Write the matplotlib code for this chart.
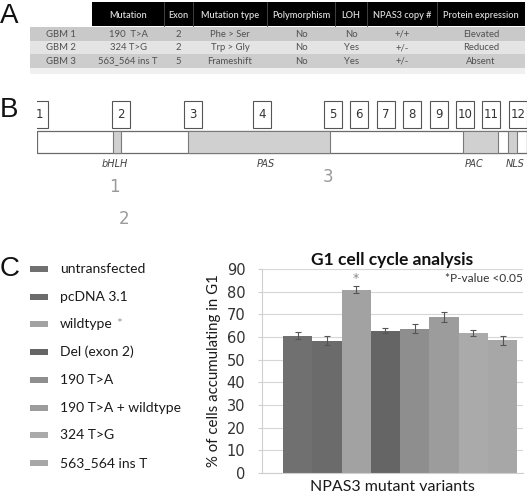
import matplotlib
matplotlib.use("Agg")
import matplotlib.pyplot as plt
from matplotlib.patches import Rectangle

# ---------------- data ----------------
table_header = ["Mutation", "Exon", "Mutation type", "Polymorphism", "LOH", "NPAS3 copy #", "Protein expression"]
table_rows = ["GBM 1", "GBM 2", "GBM 3"]
col_mutation = ["190  T>A", "324 T>G", "563_564 ins T"]
col_exon = ["2", "2", "5"]
col_type = ["Phe > Ser", "Trp > Gly", "Frameshift"]
col_poly = ["No", "No", "No"]
col_loh = ["No", "Yes", "Yes"]
col_copy = ["+/+", "+/-", "+/-"]
col_expr = ["Elevated", "Reduced", "Absent"]

exon_labels = ["1", "2", "3", "4", "5", "6", "7", "8", "9", "10", "11", "12"]
exon_pos = [0.4, 17.1, 31.8, 45.9, 60.4, 65.7, 71.2, 76.5, 82.0, 87.3, 92.7, 98.2]   # % of protein length
domain_names = ["bHLH", "PAS", "PAC", "NLS"]
domain_start = [15.5, 30.8, 86.9, 96.1]
domain_end = [17.1, 59.8, 94.1, 98.0]
domain_label_pos = [15.8, 46.8, 89.2, 97.5]
mutation_labels = ["1", "2", "3"]
mutation_pos = [15.9, 17.8, 59.4]

variants = ["untransfected", "pcDNA 3.1", "wildtype", "Del (exon 2)", "190 T>A",
            "190 T>A + wildtype", "324 T>G", "563_564 ins T"]
g1_values = [60.6, 58.4, 80.9, 62.8, 63.7, 68.7, 61.8, 58.5]
g1_errors = [1.5, 2.0, 1.7, 1.2, 2.0, 2.2, 1.5, 2.0]
significant = [False, False, True, False, False, False, False, False]
yticks = [0, 10, 20, 30, 40, 50, 60, 70, 80, 90]

bar_colors = ["#707070", "#6b6b6b", "#a2a2a2", "#656565", "#8e8e8e", "#9c9c9c", "#aaaaaa", "#a7a7a7"]

# ---------------- figure ----------------
W, H = 532, 498
fig = plt.figure(figsize=(W / 100, H / 100), dpi=100)
fig.patch.set_facecolor("white")

ax0 = fig.add_axes([0, 0, 1, 1])
ax0.set_xlim(0, W)
ax0.set_ylim(H, 0)
ax0.axis("off")

font_main = "Lato"
letter_font = "Liberation Sans"

# panel letters
for letter, y in [("A", 16), ("B", 110), ("C", 269)]:
    ax0.text(0, y, letter, fontsize=20, family=letter_font, ha="left", va="center", color="#111")

# ---------------- Panel A: table ----------------
col_edges = [30, 92, 164, 193, 267, 335, 367, 437, 525]
header_top, header_bot = 2, 26
row_edges = [27, 41, 54, 68]
row_colors = ["#c9c9c9", "#e4e4e4", "#cdcdcd"]

ax0.add_patch(Rectangle((col_edges[1], header_top), col_edges[-1] - col_edges[1], header_bot - header_top,
                        facecolor="black", edgecolor="none"))
for x in col_edges[2:-1]:
    ax0.plot([x, x], [header_top, header_bot], color="#4a4a4a", lw=0.6)
for i, h in enumerate(table_header):
    cx = (col_edges[i + 1] + col_edges[i + 2]) / 2
    ax0.text(cx, (header_top + header_bot) / 2 + 1, h, ha="center", va="center",
             fontsize=6.6, color="#d8d8d8", family=font_main, fontweight="semibold")

for r in range(3):
    ax0.add_patch(Rectangle((col_edges[0], row_edges[r]), col_edges[-1] - col_edges[0],
                            row_edges[r + 1] - row_edges[r], facecolor=row_colors[r], edgecolor="none"))
ax0.add_patch(Rectangle((col_edges[0], row_edges[-1]), col_edges[-1] - col_edges[0], 6,
                        facecolor="#f0f0f0", edgecolor="none"))

columns = [table_rows, col_mutation, col_exon, col_type, col_poly, col_loh, col_copy, col_expr]
for c, vals in enumerate(columns):
    cx = (col_edges[c] + col_edges[c + 1]) / 2
    for r, v in enumerate(vals):
        cy = (row_edges[r] + row_edges[r + 1]) / 2
        ax0.text(cx, cy, v, ha="center", va="center", fontsize=6.8, color="#505050", family=font_main)

# ---------------- Panel B: protein schematic ----------------
axb = fig.add_axes([37 / W, (H - 230) / H, 490 / W, 135 / H])
axb.set_xlim(0, 100)
axb.set_ylim(230, 95)
axb.axis("off")

box_w = 3.6
for lab, pos in zip(exon_labels, exon_pos):
    axb.add_patch(Rectangle((pos - box_w / 2, 101), box_w, 27, facecolor="white",
                            edgecolor="#555555", lw=0.8))
    axb.text(pos, 114.5, lab, ha="center", va="center", fontsize=8.5, color="#333333", family="DejaVu Sans")

axb.add_patch(Rectangle((0, 131), 100, 22, facecolor="white", edgecolor="#6a6a6a", lw=0.9))
for s, e in zip(domain_start, domain_end):
    axb.add_patch(Rectangle((s, 131), e - s, 22, facecolor="#d0d0d0", edgecolor="#7a7a7a", lw=0.8))
for name, p in zip(domain_names, domain_label_pos):
    axb.text(p, 164, name, ha="center", va="center", fontsize=7, style="italic",
             color="#444444", family="DejaVu Sans")
mut_y = [187, 219, 177]
for lab, p, y in zip(mutation_labels, mutation_pos, mut_y):
    axb.text(p, y, lab, ha="center", va="center", fontsize=12, color="#9a9a9a", family="DejaVu Sans")

# ---------------- Panel C: legend ----------------
leg_y0, leg_dy = 269, 27.7
for i, (name, col) in enumerate(zip(variants, bar_colors)):
    y = leg_y0 + i * leg_dy
    ax0.add_patch(Rectangle((30, y - 3), 18, 6, facecolor=col, edgecolor="none"))
    ax0.text(60, y, name, ha="left", va="center", fontsize=10, color="#1a1a1a", family=font_main)
    if significant[i]:
        ax0.text(60 + 56, y, "*", ha="left", va="center", fontsize=10, color="#999999", family=font_main)

# ---------------- Panel C: bar chart ----------------
axc = fig.add_axes([262 / W, (H - 473) / H, 261 / W, (473 - 269) / H])
x = list(range(len(variants)))
axc.bar(x, g1_values, width=1.0, color=bar_colors, edgecolor="none", zorder=2)
axc.errorbar(x, g1_values, yerr=g1_errors, fmt="none", ecolor="#555555", elinewidth=0.8,
             capsize=2, capthick=0.8, zorder=3)
for xi, v, e, s in zip(x, g1_values, g1_errors, significant):
    if s:
        axc.text(xi, v + e + 3, "*", ha="center", va="center", fontsize=9, color="#888888")
axc.set_xlim(-1.22, 7.7)
axc.set_ylim(0, 90)
axc.set_yticks(yticks)
axc.set_yticklabels([str(t) for t in yticks], fontsize=10.5, color="#333333", family="DejaVu Sans")
axc.set_xticks([])
axc.grid(axis="y", color="#d6d6d6", lw=0.8, zorder=0)
axc.set_axisbelow(True)
for sp in ["top", "right"]:
    axc.spines[sp].set_visible(False)
axc.spines["left"].set_color("#cfcfcf")
axc.spines["bottom"].set_color("#cfcfcf")
axc.tick_params(axis="y", length=3, color="#cfcfcf", pad=9)
axc.set_ylabel("% of cells accumulating in G1", fontsize=10.8, color="#1a1a1a", family=font_main, labelpad=4)
axc.set_xlabel("NPAS3 mutant variants", fontsize=11.5, color="#1a1a1a", family=font_main, labelpad=5)
axc.set_title("G1 cell cycle analysis", fontsize=12.5, fontweight="bold", color="#111111",
              family=font_main, pad=3)
axc.text(1.0, 0.955, "*P-value <0.05", transform=axc.transAxes, ha="right", va="center",
         fontsize=8.6, color="#333333", family=font_main)

fig.savefig("out.png", dpi=100, facecolor="white")
